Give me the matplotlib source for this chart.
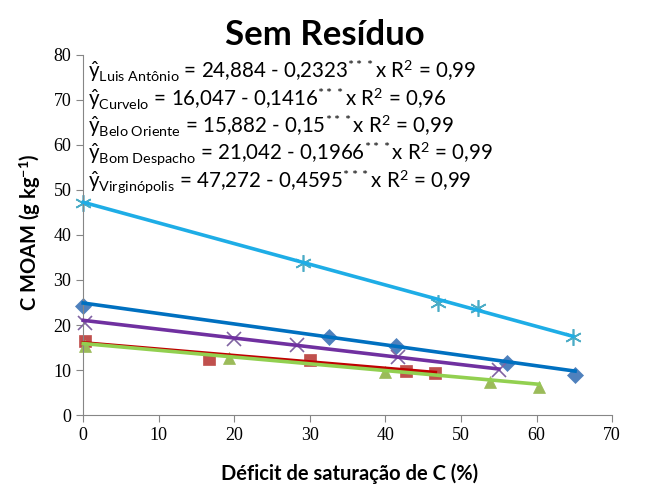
import numpy as np
import matplotlib.pyplot as plt

plt.rcParams['mathtext.fontset'] = 'custom'
plt.rcParams['mathtext.rm'] = 'Lato'
plt.rcParams['mathtext.it'] = 'Lato:italic'
plt.rcParams['mathtext.bf'] = 'Lato:bold'

# pontos observados por local
x_luis = [0, 32.5, 41.4, 56.1, 65.1]
y_luis = [24.3, 17.4, 15.3, 11.5, 9.0]
x_curv = [0.2, 16.6, 30.0, 42.7, 46.6]
y_curv = [16.4, 12.4, 12.2, 9.8, 9.3]
x_belo = [0.2, 19.3, 39.9, 53.9, 60.3]
y_belo = [15.3, 12.6, 9.5, 7.4, 6.3]
x_bom = [0.2, 19.9, 28.3, 41.7, 55.0]
y_bom = [20.5, 17.0, 15.6, 13.0, 10.0]
x_virg = [0, 29.1, 47.0, 52.2, 64.8]
y_virg = [47.1, 33.7, 24.8, 23.7, 17.4]

# ajustes lineares (intercepto, inclinação)
fit_luis = (24.884, -0.2323)
fit_curv = (16.047, -0.1416)
fit_belo = (15.882, -0.15)
fit_bom = (21.042, -0.1966)
fit_virg = (47.272, -0.4595)

fig = plt.figure(figsize=(6.45, 4.86), dpi=100)
ax = fig.add_axes([0.129, 0.146, 0.820, 0.741])

series = [
    (x_luis, y_luis, fit_luis, 'D', '#4F81BD', '#0070C0', 8),
    (x_curv, y_curv, fit_curv, 's', '#C0504D', '#C00000', 9),
    (x_belo, y_belo, fit_belo, '^', '#9BBB59', '#92D050', 9),
    (x_bom, y_bom, fit_bom, 'x', '#8064A2', '#7030A0', 10),
    (x_virg, y_virg, fit_virg, (6, 2, 0), '#4BACC6', '#1EADE6', 12),
]

for xs, ys, (a, b), mk, mcol, lcol, ms in series:
    ax.plot(xs, ys, linestyle='none', marker=mk, color=mcol,
            markersize=ms, markeredgewidth=1.2 if mk in ('x', (6, 2, 0)) else 0.5,
            zorder=2, clip_on=False)
    xl = np.array([0, max(xs)])
    ax.plot(xl, a + b * xl, color=lcol, linewidth=2.6, zorder=3, clip_on=False)

ax.set_xlim(0, 70)
ax.set_ylim(0, 80)
ax.set_xticks(range(0, 71, 10))
ax.set_yticks(range(0, 81, 10))
for s in ['top', 'right']:
    ax.spines[s].set_visible(False)
for s in ['left', 'bottom']:
    ax.spines[s].set_color('#868686')
ax.tick_params(direction='out', length=5, color='#868686', labelsize=13)
for lab in ax.get_xticklabels() + ax.get_yticklabels():
    lab.set_fontfamily('Liberation Serif')

fig.text(350 / 645, 1 - 474 / 486, 'Déficit de saturação de C (%)',
         ha='center', va='center', fontsize=14.5, fontweight='bold',
         fontfamily='Lato')
fig.text(30 / 645, 1 - 232 / 486, r'C MOAM (g kg$^{\mathbf{-1}}$)',
         ha='center', va='center', rotation=90, fontsize=14.5,
         fontweight='bold', fontfamily='Lato')
fig.text(325 / 645, 1 - 35 / 486, 'Sem Resíduo', ha='center', va='center',
         fontsize=25, fontweight='bold', fontfamily='Lato')

eqs = [
    (r'$\hat{\mathrm{y}}_{\mathrm{Luis\ Antônio}}$', '24,884 - 0,2323', '0,99'),
    (r'$\hat{\mathrm{y}}_{\mathrm{Curvelo}}$', '16,047 - 0,1416', '0,96'),
    (r'$\hat{\mathrm{y}}_{\mathrm{Belo\ Oriente}}$', '15,882 - 0,15', '0,99'),
    (r'$\hat{\mathrm{y}}_{\mathrm{Bom\ Despacho}}$', '21,042 - 0,1966', '0,99'),
    (r'$\hat{\mathrm{y}}_{\mathrm{Virginópolis}}$', '47,272 - 0,4595', '0,99'),
]
ys_txt = [71, 99, 126, 153, 181]
for (yh, coef, r2), yp in zip(eqs, ys_txt):
    fig.text(88 / 645, 1 - yp / 486,
             yh + ' = ' + coef + r'$^{***}$x R$^{2}$ = ' + r2,
             ha='left', va='center', fontsize=14.8, fontfamily='Lato')

fig.savefig('out.png', dpi=100)
